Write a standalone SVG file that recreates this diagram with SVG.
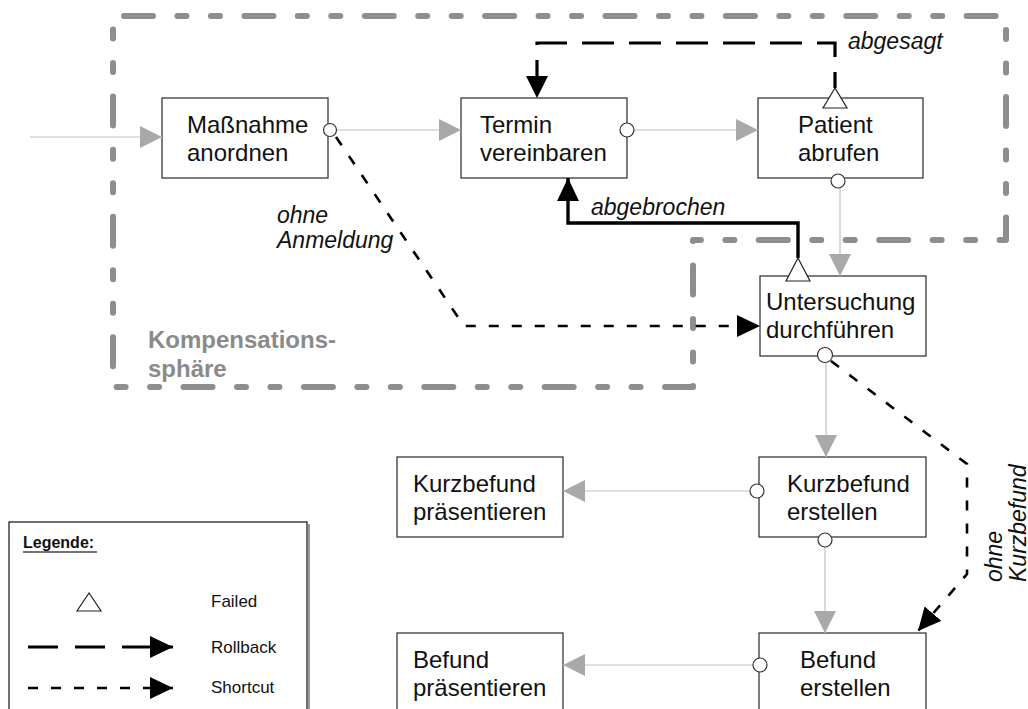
<svg xmlns="http://www.w3.org/2000/svg" width="1028" height="709" viewBox="0 0 1028 709">
<style>
.box{fill:#fff;stroke:#3a3a3a;stroke-width:1.3}
.t{font-family:"Liberation Sans",Arial,sans-serif;font-size:24px;fill:#111}
.it{font-family:"Liberation Sans",Arial,sans-serif;font-size:23px;font-style:italic;fill:#111}
.flow{stroke:#c2c2c2;stroke-width:1.2;fill:none}
.port{fill:#fff;stroke:#333;stroke-width:1.2}
.fail{fill:#fff;stroke:#222;stroke-width:1.2}
.rb{stroke:#000;stroke-width:3.2;fill:none;stroke-dasharray:32 15}
.sc{stroke:#000;stroke-width:2.6;fill:none;stroke-dasharray:10 13}
.solid{stroke:#000;stroke-width:3.4;fill:none}
.zone{stroke:#8e8e8e;stroke-width:6;fill:none;stroke-linecap:round;stroke-linejoin:round;stroke-dasharray:29 24.46 9 24.46 9 24.46;stroke-dashoffset:-11}
.zt{font-family:"Liberation Sans",Arial,sans-serif;font-size:24px;font-weight:bold;fill:#8a8a8a}
.lg{font-family:"Liberation Sans",Arial,sans-serif;font-size:17px;fill:#111}
</style>
<defs>
<marker id="ag" markerUnits="userSpaceOnUse" markerWidth="22" markerHeight="22" refX="22" refY="11" orient="auto">
<path d="M0,0 L22,11 L0,22 Z" fill="#a9a9a9"/>
</marker>
<marker id="ab" markerUnits="userSpaceOnUse" markerWidth="23" markerHeight="22" refX="23" refY="11" orient="auto">
<path d="M0,0 L23,11 L0,22 Z" fill="#000"/>
</marker>
</defs>

<g id="zone">
<path class="zone" d="M113,16 L1006,16 L1006,240 L693,240 L693,387 L113,387 Z"/>
<text class="zt" x="148" y="348">Kompensations-</text>
<text class="zt" x="148" y="377">sphäre</text>
</g>

<g id="massnahme">
<rect class="box" x="162" y="98" width="166" height="80"/>
<text class="t" x="187" y="133">Maßnahme</text>
<text class="t" x="187" y="161">anordnen</text>
</g>

<g id="termin">
<rect class="box" x="461" y="98" width="166" height="80"/>
<text class="t" x="480" y="133">Termin</text>
<text class="t" x="480" y="161">vereinbaren</text>
</g>

<g id="patient">
<rect class="box" x="758" y="98" width="165" height="80"/>
<text class="t" x="798" y="133">Patient</text>
<text class="t" x="798" y="161">abrufen</text>
</g>

<g id="untersuchung">
<rect class="box" x="760" y="276" width="166" height="80"/>
<text class="t" x="766" y="310">Untersuchung</text>
<text class="t" x="766" y="338">durchführen</text>
</g>

<g id="kurzbefund-erstellen">
<rect class="box" x="759" y="457" width="167" height="80"/>
<text class="t" x="787" y="492">Kurzbefund</text>
<text class="t" x="787" y="520">erstellen</text>
</g>

<g id="kurzbefund-praesentieren">
<rect class="box" x="397" y="457" width="166" height="80"/>
<text class="t" x="413" y="492">Kurzbefund</text>
<text class="t" x="413" y="520">präsentieren</text>
</g>

<g id="befund-erstellen">
<rect class="box" x="759" y="633" width="167" height="80"/>
<text class="t" x="800" y="668">Befund</text>
<text class="t" x="800" y="696">erstellen</text>
</g>

<g id="befund-praesentieren">
<rect class="box" x="397" y="633" width="166" height="80"/>
<text class="t" x="413" y="668">Befund</text>
<text class="t" x="413" y="696">präsentieren</text>
</g>

<g id="connectors">
<path class="flow" d="M30,137 L162,137" marker-end="url(#ag)"/>
<path class="flow" d="M337,130 L461,130" marker-end="url(#ag)"/>
<path class="flow" d="M634,130 L758,130" marker-end="url(#ag)"/>
<path class="flow" d="M840,188 L840,276" marker-end="url(#ag)"/>
<path class="flow" d="M826,363 L826,457" marker-end="url(#ag)"/>
<path class="flow" d="M750,491 L563,491" marker-end="url(#ag)"/>
<path class="flow" d="M825,547 L825,633" marker-end="url(#ag)"/>
<path class="flow" d="M753,665 L563,665" marker-end="url(#ag)"/>
<path class="rb" style="stroke-dashoffset:-6" d="M537,98 L537,43 L835,43 L835,88"/>
<path d="M526,76 L548,76 L537,98 Z" fill="#000"/>
<path class="solid" d="M798,258 L798,223 L568,223 L568,178" marker-end="url(#ab)"/>
<path class="sc" d="M336,137 L464,326 L760,326" marker-end="url(#ab)"/>
<path class="sc" d="M831,361 L967,464 L967,574 L918,631" marker-end="url(#ab)"/>
<circle class="port" cx="330" cy="130" r="6.5"/>
<circle class="port" cx="627" cy="130" r="7"/>
<circle class="port" cx="838" cy="181" r="7"/>
<circle class="port" cx="825" cy="355" r="7.5"/>
<circle class="port" cx="757" cy="491" r="7"/>
<circle class="port" cx="825" cy="540" r="7"/>
<circle class="port" cx="760" cy="665" r="7"/>
<polygon class="fail" points="835,88 823,108 847,108"/>
<polygon class="fail" points="798,258 786,281 810,281"/>
<text class="it" x="848" y="49">abgesagt</text>
<text class="it" x="591" y="215">abgebrochen</text>
<text class="it" x="277" y="223">ohne</text>
<text class="it" x="277" y="248">Anmeldung</text>
<text class="it" transform="translate(1002,582) rotate(-90)">ohne</text>
<text class="it" transform="translate(1026,582) rotate(-90)">Kurzbefund</text>
</g>

<g id="legend">
<line x1="309" y1="524" x2="309" y2="709" stroke="#999" stroke-width="2"/>
<rect x="9" y="522" width="298" height="200" fill="#fff" stroke="#222" stroke-width="1.3"/>
<text x="23" y="548" font-family="'Liberation Sans',Arial,sans-serif" font-size="16" font-weight="bold" fill="#111">Legende:</text>
<line x1="23" y1="552" x2="97" y2="552" stroke="#444" stroke-width="1.5"/>
<polygon class="fail" points="89,593 77,611 101,611"/>
<text class="lg" x="211" y="607">Failed</text>
<path class="rb" style="stroke-dasharray:30 17;stroke-width:3" d="M28,647 L173,647" marker-end="url(#ab)"/>
<text class="lg" x="211" y="653">Rollback</text>
<path class="sc" d="M28,688 L173,688" marker-end="url(#ab)"/>
<text class="lg" x="211" y="693">Shortcut</text>
</g>
</svg>
